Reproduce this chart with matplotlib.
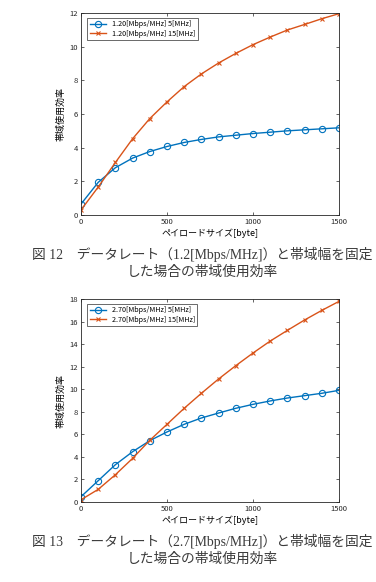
import matplotlib
matplotlib.use("Agg")
import matplotlib.pyplot as plt

plt.rcParams['font.family'] = ['Noto Sans CJK JP', 'DejaVu Sans']

# payload sizes [byte]
payload = [0, 100, 200, 300, 400, 500, 600, 700, 800, 900, 1000, 1100, 1200, 1300, 1400, 1500]

# fig 12: 1.2 Mbps/MHz
eff_12_5 = [0.65, 1.94, 2.81, 3.38, 3.77, 4.07, 4.31, 4.49, 4.64, 4.74, 4.84, 4.92, 5.00, 5.06, 5.12, 5.18]
eff_12_15 = [0.30, 1.66, 3.12, 4.53, 5.73, 6.72, 7.63, 8.38, 9.03, 9.60, 10.12, 10.57, 10.99, 11.32, 11.66, 11.96]

# fig 13: 2.7 Mbps/MHz
eff_27_5 = [0.47, 1.89, 3.31, 4.46, 5.44, 6.21, 6.89, 7.45, 7.89, 8.31, 8.66, 8.96, 9.22, 9.43, 9.64, 9.90]
eff_27_15 = [0.20, 1.12, 2.42, 3.87, 5.47, 6.89, 8.31, 9.64, 10.91, 12.09, 13.21, 14.27, 15.22, 16.14, 16.99, 17.79]

labels_12 = ["1.20[Mbps/MHz] 5[MHz]", "1.20[Mbps/MHz] 15[MHz]"]
labels_27 = ["2.70[Mbps/MHz] 5[MHz]", "2.70[Mbps/MHz] 15[MHz]"]
yticks_12 = [0, 2, 4, 6, 8, 10, 12]
yticks_27 = [0, 2, 4, 6, 8, 10, 12, 14, 16, 18]
xticks = [0, 500, 1000, 1500]

captions = [
    "図 12　データレート（1.2[Mbps/MHz]）と帯域幅を固定\nした場合の帯域使用効率",
    "図 13　データレート（2.7[Mbps/MHz]）と帯域幅を固定\nした場合の帯域使用効率",
]

BLUE = "#0072BD"
ORANGE = "#D95319"

W, H = 376, 582
fig = plt.figure(figsize=(W / 100, H / 100), dpi=100)


def make_axes(top_px, bottom_px):
    return fig.add_axes([81 / W, 1 - bottom_px / H, (339 - 81) / W, (bottom_px - top_px) / H])


def draw(ax, s5, s15, labels, yticks):
    ax.plot(payload, s5, color=BLUE, marker="o", markersize=4.5, markerfacecolor="none",
            markeredgewidth=0.8, linewidth=1.0, label=labels[0])
    ax.plot(payload, s15, color=ORANGE, marker="x", markersize=3.5,
            markeredgewidth=0.8, linewidth=1.0, label=labels[1])
    ax.set_xlim(0, 1500)
    ax.set_ylim(yticks[0], yticks[-1])
    ax.set_xticks(xticks)
    ax.set_yticks(yticks)
    ax.tick_params(direction="in", top=True, right=True, labelsize=5.5, length=2.5,
                   width=0.5, pad=2, colors="#262626")
    for sp in ax.spines.values():
        sp.set_linewidth(0.6)
        sp.set_color("#262626")
    ax.set_ylabel("帯域使用効率", fontsize=6.5, labelpad=3)
    ax.set_xlabel("ペイロードサイズ[byte]", fontsize=6.5, labelpad=2)
    leg = ax.legend(loc="upper left", fontsize=5.2, frameon=True, fancybox=False,
                    borderpad=0.3, handlelength=2.3, labelspacing=0.2,
                    bbox_to_anchor=(0.025, 0.975), borderaxespad=0)
    leg.get_frame().set_edgecolor("#262626")
    leg.get_frame().set_linewidth(0.6)


ax1 = make_axes(13, 215)
draw(ax1, eff_12_5, eff_12_15, labels_12, yticks_12)
ax2 = make_axes(299, 502)
draw(ax2, eff_27_5, eff_27_15, labels_27, yticks_27)

cap_font = ['Liberation Serif', 'Noto Sans CJK JP']
fig.text(0.5 + 14 / W, 1 - 263 / H, captions[0], ha="center", va="center", fontsize=9.9,
         color="#3a3a3a", linespacing=1.38, family=cap_font)
fig.text(0.5 + 14 / W, 1 - 550 / H, captions[1], ha="center", va="center", fontsize=9.9,
         color="#3a3a3a", linespacing=1.38, family=cap_font)

fig.savefig("out.png", dpi=100)
